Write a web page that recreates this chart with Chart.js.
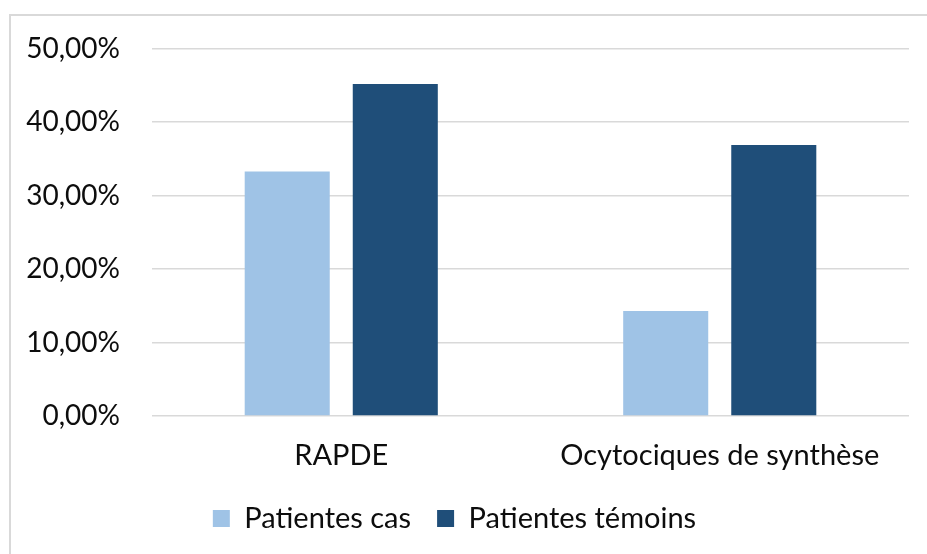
<!DOCTYPE html>
<html>
<head>
<meta charset="utf-8">
<script src="https://cdn.jsdelivr.net/npm/chart.js@4/dist/chart.umd.min.js"></script>
<style>
  html, body { margin: 0; padding: 0; background: #ffffff; }
  #wrap { position: relative; width: 927px; height: 554px; overflow: hidden; }
  #frame { position: absolute; left: 9px; top: 14px; width: 940px; height: 560px; border: 2px solid #d9d9d9; box-sizing: border-box; }
  canvas { position: absolute; left: 0; top: 0; }
</style>
</head>
<body>
<div id="wrap">
  <div id="frame"></div>
  <canvas id="c" width="927" height="554"></canvas>
</div>
<script>
const categories = ['RAPDE', 'Ocytociques de synthèse'];
const seriesNames = ['Patientes cas', 'Patientes témoins'];
const casValues = [33.3, 14.3];
const temoinsValues = [45.2, 36.9];
const yTickLabels = ['0,00%', '10,00%', '20,00%', '30,00%', '40,00%', '50,00%'];

const FONT = 'Lato, "Noto Sans", sans-serif';

new Chart(document.getElementById('c'), {
  type: 'bar',
  data: {
    labels: categories,
    datasets: [
      { label: seriesNames[0], data: casValues, backgroundColor: '#9FC3E6', borderWidth: 0 },
      { label: seriesNames[1], data: temoinsValues, backgroundColor: '#1F4E79', borderWidth: 0 }
    ]
  },
  options: {
    responsive: false,
    animation: false,
    devicePixelRatio: 1,
    layout: { padding: { top: 47, left: 0, right: 18, bottom: 11 } },
    datasets: { bar: { categoryPercentage: 0.571, barPercentage: 0.787 } },
    scales: {
      x: {
        grid: { display: false, drawTicks: false },
        border: { display: false },
        ticks: { color: '#0d0d0d', font: { family: FONT, size: 29 }, padding: 22, maxRotation: 0 },
        afterFit: (s) => { s.height = 62; }
      },
      y: {
        min: 0, max: 50,
        grid: { color: '#d9d9d9', lineWidth: 1.5, drawTicks: false },
        border: { display: false },
        ticks: {
          stepSize: 10,
          color: '#0d0d0d',
          font: { family: FONT, size: 28 },
          padding: 32,
          callback: (v, i) => yTickLabels[i]
        },
        afterFit: (s) => { s.width = 152; }
      }
    },
    plugins: {
      legend: {
        position: 'bottom',
        labels: {
          color: '#0d0d0d',
          font: { family: FONT, size: 29 },
          boxWidth: 17, boxHeight: 17,
          padding: 26
        }
      },
      tooltip: { enabled: false }
    }
  }
});
</script>
</body>
</html>
